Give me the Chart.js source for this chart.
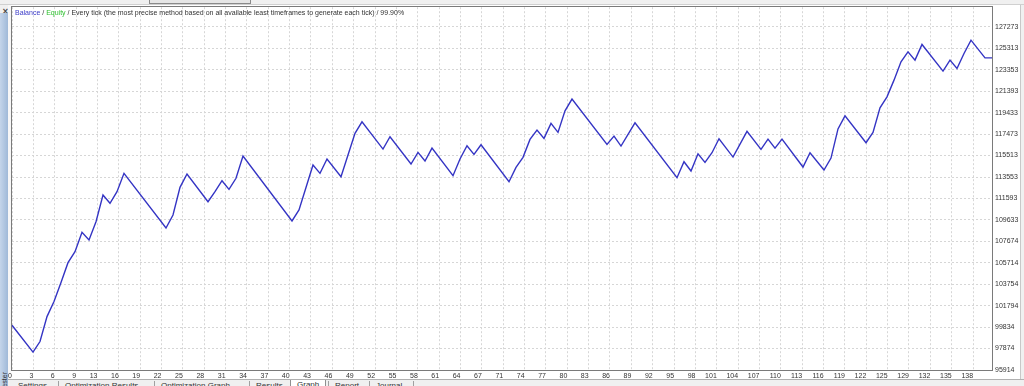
<!DOCTYPE html>
<html>
<head>
<meta charset="utf-8">
<script src="https://cdn.jsdelivr.net/npm/chart.js@4.4.1/dist/chart.umd.min.js"></script>
<style>
  html, body { margin:0; padding:0; width:1024px; height:386px; overflow:hidden; background:#fff; }
  body { font-family: "Liberation Sans", Arial, sans-serif; position:relative; }
  #topbar { position:absolute; left:0; top:0; width:1024px; height:4px; background:#f0f0f0; border-bottom:1px solid #d0d0d0; }
  #topbox { position:absolute; left:149px; top:0; width:100px; height:3px; border:1px solid #8a8a8a; border-top:none; background:#e6e6e6; }
  #corner { position:absolute; left:0; top:5px; width:9px; height:8px; background:#f0f0f0; }
  #close { position:absolute; left:2px; top:3px; font:bold 8px "DejaVu Sans", sans-serif; color:#444; line-height:8px; }
  #side { position:absolute; left:0; top:13px; width:8px; height:373px; overflow:hidden;
          background:linear-gradient(to right, #c4d5ea, #9fb9d8); }
  #sideTxt { position:absolute; left:-10px; top:370px; width:30px; height:8px; font-size:7px; line-height:8px; color:#333;
             transform:rotate(-90deg); transform-origin:center; text-align:right; }
  #gap { position:absolute; left:8px; top:5px; width:3px; height:381px; background:#f7f7f7; }
  #rightEdge { position:absolute; right:0; top:5px; width:3px; height:381px; background:#f0f0f0; border-left:1px solid #c8c8c8; }
  #chartBox { position:absolute; left:0; top:0; width:1024px; height:386px; }
  #header { position:absolute; left:15px; top:8px; font-size:7px; line-height:9px; color:#333; white-space:nowrap; }
  #header .bal { color:#3c3cc8; }
  #header .eq { color:#2fc12f; }
  #tabs { position:absolute; left:8px; top:379px; width:1016px; height:7px; background:#f0f0f0; border-top:1px solid #b0b0b0; overflow:hidden; }
  #tabs span { position:absolute; top:1px; font-size:8px; line-height:10px; color:#333; padding:0 6px; border-left:1px solid #a0a0a0; height:10px; }
  #tabs span.sel { background:#fff; top:-1px; border:1px solid #909090; border-bottom:none; }
</style>
</head>
<body>
<div id="topbar"><div id="topbox"></div></div>
<div id="corner"><div id="close">×</div></div>
<div id="side"><div id="sideTxt">Tester</div></div>
<div id="gap"></div>
<div id="rightEdge"></div>
<div id="chartBox"><canvas id="graph" width="1024" height="386"></canvas></div>
<div id="header"><span class="bal">Balance</span> / <span class="eq">Equity</span> / Every tick (the most precise method based on all available least timeframes to generate each tick) / 99.90%</div>
<div id="tabs">
  <span style="left:4px;border-left:none">Settings</span>
  <span style="left:50px">Optimization Results</span>
  <span style="left:146px">Optimization Graph</span>
  <span style="left:241px">Results</span>
  <span class="sel" style="left:282px">Graph</span>
  <span style="left:320px">Report</span>
  <span style="left:361px">Journal</span>
  <span style="left:405px"></span>
</div>
<script>
// trade number of every visible corner of the balance line, and the balance there
const tradeNo = [0,3,4,5,6,7,8,9,10,11,12,13,14,15,16,22,23,24,25,28,29,30,31,32,33,40,41,43,44,45,
  47,48,49,50,53,54,57,58,59,60,63,64,65,66,67,71,72,73,74,75,76,77,78,79,80,85,86,87,89,95,
  96,97,98,99,100,101,103,105,107,108,109,110,113,114,116,117,118,119,122,123,124,125,126,127,128,129,130,133,134,135,
  136,137,139,140];
const balance = [100000,97545,98513,100796,102165,103918,105726,106730,108502,107799,
  109469,111907,111149,112208,113888,108894,110081,112610,113824,111295,
  112208,113213,112427,113432,115468,109533,110538,114646,113888,115194,
  113578,115559,117540,118599,116107,117230,114737,115805,115011,116198,
  113669,115194,116408,115623,116499,113121,114436,115349,116992,117842,
  117084,118453,117631,119604,120672,116536,117294,116381,118508,113487,
  114947,114098,115678,114892,115769,117047,115376,117723,116079,117020,
  116198,117020,114463,115769,114190,115285,117951,119147,116682,117631,
  119877,120882,122407,124077,124990,124233,125666,123228,124233,123475,
  124844,126059,124442,124442];

const xTickLabels = [0,3,6,9,13,16,19,22,25,28,31,34,37,40,43,46,49,52,55,58,61,64,67,71,
  74,77,80,83,86,89,92,95,98,101,104,107,110,113,116,119,122,125,129,132,135,138];
const yTickLabels = [95914,97874,99834,101794,103754,105714,107674,109633,111593,113553,
  115513,117473,119433,121393,123353,125313,127273];

const lastTrade = 140;
const yMin = 95914, yMax = 129072;
const xGridStep = 3.051;   // the tester puts a label every ~21px, not on round trade numbers

const points = tradeNo.map((t, i) => ({ x: t, y: balance[i] }));

const axisFont = { family: 'Liberation Sans', size: 7 };

const frame = {
  id: 'frame',
  afterDraw(chart) {
    const { ctx, chartArea: a } = chart;
    ctx.save();
    ctx.strokeStyle = '#7a7a7a';
    ctx.lineWidth = 1;
    ctx.strokeRect(Math.round(a.left) - 0.5, Math.round(a.top) - 0.5,
      Math.round(a.right - a.left) + 1, Math.round(a.bottom - a.top) + 1);
    ctx.restore();
  }
};

const canvas = document.getElementById('graph').getContext('2d');
new Chart(canvas, {
  type: 'line',
  data: {
    datasets: [{
      label: 'Balance',
      data: points,
      borderColor: '#3434c4',
      borderWidth: 1.4,
      pointRadius: 0,
      tension: 0,
      fill: false
    }]
  },
  options: {
    responsive: false,
    animation: false,
    layout: { padding: { left: 12, top: 7, right: 0, bottom: 0 } },
    plugins: { legend: { display: false }, tooltip: { enabled: false } },
    scales: {
      x: {
        type: 'linear',
        min: 0,
        max: lastTrade,
        afterBuildTicks: s => { s.ticks = xTickLabels.map((l, k) => ({ value: k * xGridStep })); },
        afterFit: s => { s.height = 16; },
        grid: { color: '#d6d6d6', drawTicks: false },
        border: { display: false, dash: [2, 2] },
        ticks: {
          autoSkip: false, maxRotation: 0, align: 'end', padding: 2,
          color: '#333', font: axisFont,
          callback: (v, i) => String(xTickLabels[i])
        }
      },
      y: {
        position: 'right',
        min: yMin,
        max: yMax,
        afterBuildTicks: s => { s.ticks = yTickLabels.map(v => ({ value: v })); },
        afterFit: s => { s.width = 32; },
        grid: { color: '#d6d6d6', drawTicks: false },
        border: { display: false, dash: [2, 2] },
        ticks: {
          padding: 3, color: '#333', font: axisFont,
          callback: v => String(v)
        }
      }
    }
  },
  plugins: [frame]
});
</script>
</body>
</html>
